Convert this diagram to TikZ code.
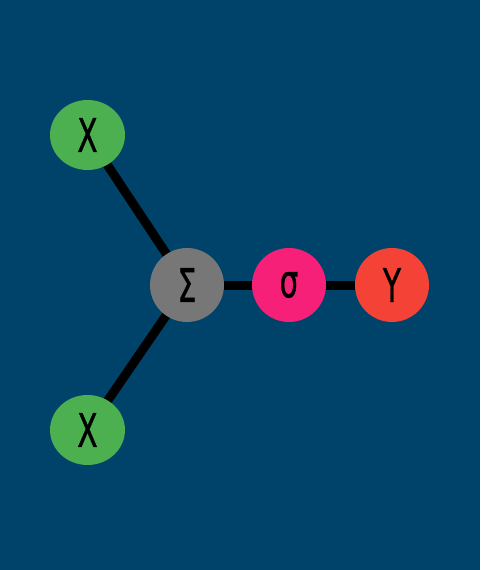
\documentclass[tikz,border=0pt]{standalone}
\usepackage{fontspec}
\setmainfont{DejaVu Sans}
\newfontfamily\lblfont[FakeBold=1.2]{DejaVu Sans}
\usetikzlibrary{shapes.geometric}
\definecolor{bg}{HTML}{00436A}
\definecolor{cgreen}{HTML}{4CAF50}
\definecolor{cgray}{HTML}{777777}
\definecolor{cpink}{HTML}{F72079}
\definecolor{cred}{HTML}{F44336}
\tikzset{
  nd/.style={circle,minimum size=74pt,inner sep=0pt,text=black,
    font=\lblfont\fontsize{46}{46}\selectfont},
  ell/.style={ellipse,minimum width=75pt,minimum height=70pt,inner sep=0pt,text=black,
    font=\lblfont\fontsize{46}{46}\selectfont},
  edge/.style={line width=9pt,black}
}
\newcommand{\gl}[1]{\scalebox{0.64}[1]{#1}}
\begin{document}
\begin{tikzpicture}[x=1pt,y=-1pt]
\fill[bg] (0,0) rectangle (480,570);
\useasboundingbox (0,0) rectangle (480,570);
\coordinate (cx1) at (87.5,135);
\coordinate (cx2) at (87.5,430);
\coordinate (cs) at (187,285);
\coordinate (csig) at (289,285);
\coordinate (cg) at (392,285);
\draw[edge] (cx1) -- (cs);
\draw[edge] (cx2) -- (cs);
\draw[edge] (cs) -- (cg);
\node[ell,fill=cgreen] (x1) at (cx1) {\gl{Χ}};
\node[ell,fill=cgreen] (x2) at (cx2) {\gl{Χ}};
\node[nd,fill=cgray] (s) at (cs) {\gl{Σ}};
\node[nd,fill=cpink] (sig) at (csig) {\gl{σ}};
\node[nd,fill=cred] (g) at (cg) {\gl{Υ}};
\end{tikzpicture}
\end{document}
